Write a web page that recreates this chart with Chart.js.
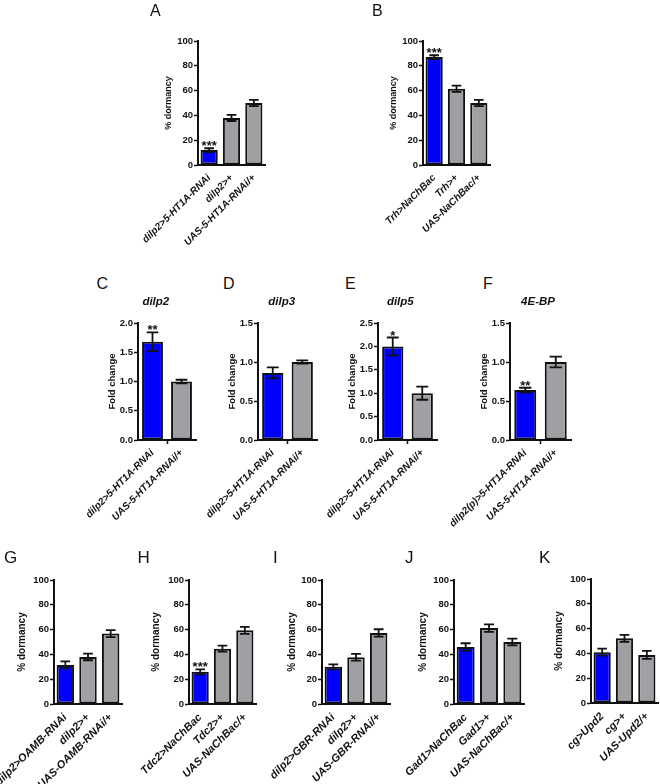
<!DOCTYPE html>
<html lang="en">
<head>
    <meta charset="UTF-8">
    <title>Dormancy panels</title>
    <script src="https://cdn.jsdelivr.net/npm/chart.js"></script>
    <style>
        body { margin: 0; background: #fff; }
        #fig { position: relative; width: 660px; height: 784px; overflow: hidden; }
        #fig canvas { position: absolute; }
        .letter { position: absolute; font: 16px "Liberation Sans", Arial, sans-serif; line-height: 1; color: #111; }
        .gene { position: absolute; font: italic bold 11.5px "Liberation Sans", Arial, sans-serif; line-height: 1; color: #111; transform: translateX(-50%); white-space: nowrap; }
    </style>
</head>
<body>
<div id="fig"></div>
<script>
    // ---- data ----
    const labelsA = ["dilp2>5-HT1A-RNAi", "dilp2>+", "UAS-5-HT1A-RNAi/+"];
    const valuesA = [12, 38, 50];
    const errA = [1.5, 2.5, 2.5];
    const starsA = ["***", "", ""];

    const labelsB = ["Trh>NaChBac", "Trh>+", "UAS-NaChBac/+"];
    const valuesB = [87, 61.5, 50];
    const errB = [1.5, 2.5, 2.5];
    const starsB = ["***", "", ""];

    const labelsCDE = ["dilp2>5-HT1A-RNAi", "UAS-5-HT1A-RNAi/+"];
    const valuesC = [1.68, 1.0];
    const errC = [0.16, 0.03];
    const starsC = ["**", ""];

    const valuesD = [0.86, 1.0];
    const errD = [0.07, 0.02];
    const starsD = ["", ""];

    const valuesE = [2.0, 1.0];
    const errE = [0.19, 0.14];
    const starsE = ["*", ""];

    const labelsF = ["dilp2(p)>5-HT1A-RNAi", "UAS-5-HT1A-RNAi/+"];
    const valuesF = [0.64, 1.0];
    const errF = [0.03, 0.07];
    const starsF = ["**", ""];

    const labelsG = ["dilp2>OAMB-RNAi", "dilp2>+", "UAS-OAMB-RNAi/+"];
    const valuesG = [31.5, 38, 56.8];
    const errG = [2.8, 2.7, 2.8];
    const starsG = ["", "", ""];

    const labelsH = ["Tdc2>NaChBac", "Tdc2>+", "UAS-NaChBac/+"];
    const valuesH = [26, 44.6, 59.4];
    const errH = [2, 2.4, 2.8];
    const starsH = ["***", "", ""];

    const labelsI = ["dilp2>GBR-RNAi", "dilp2>+", "UAS-GBR-RNAi/+"];
    const valuesI = [30, 37.7, 57.3];
    const errI = [2, 2.7, 3];
    const starsI = ["", "", ""];

    const labelsJ = ["Gad1>NaChBac", "Gad1>+", "UAS-NaChBac/+"];
    const valuesJ = [46, 61.2, 50];
    const errJ = [3, 3, 2.8];
    const starsJ = ["", "", ""];

    const labelsK = ["cg>Upd2", "cg>+", "UAS-Upd2/+"];
    const valuesK = [41, 52.2, 38.8];
    const errK = [2.8, 2.8, 3.2];
    const starsK = ["", "", ""];

    const geneTitles = ["dilp2", "dilp3", "dilp5", "4E-BP"];

    // ---- look ----
    const BLUE = "#0000ff";
    const GRAY = "#a0a0a4";
    const INK = "#111";
    const FAMILY = "'Liberation Sans', Arial, sans-serif";

    const fig = document.getElementById("fig");

    // error bars + significance stars, placed with the chart's own y scale
    const errorBars = {
        id: "errorBars",
        afterDatasetsDraw(chart) {
            const ctx = chart.ctx;
            const ds = chart.data.datasets[0];
            const meta = chart.getDatasetMeta(0);
            const y = chart.scales.y;
            ctx.save();
            ctx.strokeStyle = INK;
            ctx.lineWidth = 1.8;
            meta.data.forEach((bar, i) => {
                const v = ds.data[i], e = ds.err[i];
                const hi = y.getPixelForValue(v + e);
                const lo = y.getPixelForValue(v - e);
                const cap = bar.width * 0.28;
                ctx.beginPath();
                ctx.moveTo(bar.x, hi); ctx.lineTo(bar.x, lo);
                ctx.moveTo(bar.x - cap, hi); ctx.lineTo(bar.x + cap, hi);
                ctx.moveTo(bar.x - cap, lo); ctx.lineTo(bar.x + cap, lo);
                ctx.stroke();
                if (ds.stars[i]) {
                    ctx.fillStyle = INK;
                    ctx.font = "bold 13px " + FAMILY;
                    ctx.textAlign = "center";
                    ctx.textBaseline = "alphabetic";
                    ctx.fillText(ds.stars[i], bar.x, hi + 2);
                }
            });
            ctx.restore();
        }
    };

    function makePanel(p) {
        const PADL = 75, PADT = 30, PADR = 6, XH = 100;
        const YW = p.titleOff + 6;
        const plotW = p.right - p.axisX;
        const plotH = p.bottom - p.top;
        const w = Math.round(PADL + YW + plotW + PADR);
        const h = Math.round(PADT + plotH + XH);
        const c = document.createElement("canvas");
        c.width = w; c.height = h;
        c.style.width = w + "px"; c.style.height = h + "px";
        c.style.left = (p.axisX - YW - PADL) + "px";
        c.style.top = (p.top - PADT) + "px";
        fig.appendChild(c);

        const two = p.labels.length === 2;

        new Chart(c, {
            type: "bar",
            data: {
                labels: p.labels,
                datasets: [{
                    data: p.values,
                    err: p.err,
                    stars: p.stars,
                    backgroundColor: p.labels.map((l, i) => i === 0 ? BLUE : GRAY),
                    borderColor: INK,
                    borderWidth: 2,
                    borderSkipped: false,
                    barPercentage: two ? 0.72 : 0.77,
                    categoryPercentage: 1
                }]
            },
            options: {
                responsive: false,
                animation: false,
                layout: { padding: { left: PADL, top: PADT, right: PADR, bottom: 0 } },
                plugins: { legend: { display: false }, tooltip: { enabled: false } },
                scales: {
                    x: {
                        offset: true,
                        border: { display: true, color: INK, width: 2 },
                        grid: {
                            display: true, offset: true, drawOnChartArea: false,
                            drawTicks: true, tickLength: 4, tickWidth: 1.5,
                            tickColor: ctx => (two && ctx.index === 1) ? INK : "rgba(0,0,0,0)"
                        },
                        ticks: {
                            autoSkip: false, minRotation: 45, maxRotation: 45, padding: 3,
                            color: INK, font: { family: FAMILY, size: p.xSize, style: "italic", weight: "bold" }
                        },
                        afterFit: s => { s.height = XH; s.paddingLeft = 0; s.paddingRight = 0; }
                    },
                    y: {
                        min: 0, max: p.max,
                        border: { display: true, color: INK, width: 2 },
                        grid: { drawOnChartArea: false, drawTicks: true, tickLength: 4, tickWidth: 1.5, tickColor: INK },
                        ticks: {
                            stepSize: p.step, padding: 1, color: INK,
                            font: { family: FAMILY, size: 9.5, weight: "bold" },
                            callback: v => v.toFixed(p.dec)
                        },
                        title: {
                            display: true, text: p.yTitle, color: INK, padding: 0,
                            font: { family: FAMILY, size: p.titleSize, weight: "bold" }
                        },
                        afterFit: s => { s.width = YW; s.paddingTop = 0; s.paddingBottom = 0; }
                    }
                }
            },
            plugins: [errorBars]
        });
    }

    const dorm = { max: 100, step: 20, dec: 0, yTitle: "% dormancy" };
    const fold = { max: 1.5, step: 0.5, dec: 1, yTitle: "Fold change" };

    const panels = [
        Object.assign({}, dorm, { labels: labelsA, values: valuesA, err: errA, stars: starsA, axisX: 197.7, right: 265, top: 40.5, bottom: 164, titleOff: 29, titleSize: 9, xSize: 10 }),
        Object.assign({}, dorm, { labels: labelsB, values: valuesB, err: errB, stars: starsB, axisX: 422.7, right: 490, top: 40.5, bottom: 164, titleOff: 29, titleSize: 9, xSize: 10 }),
        Object.assign({}, fold, { labels: labelsCDE, values: valuesC, err: errC, stars: starsC, max: 2.0, axisX: 137.7, right: 196, top: 323.3, bottom: 440.7, titleOff: 25, titleSize: 9.5, xSize: 10 }),
        Object.assign({}, fold, { labels: labelsCDE, values: valuesD, err: errD, stars: starsD, axisX: 258.3, right: 317, top: 323.3, bottom: 440.7, titleOff: 25, titleSize: 9.5, xSize: 10 }),
        Object.assign({}, fold, { labels: labelsCDE, values: valuesE, err: errE, stars: starsE, max: 2.5, axisX: 377.7, right: 437, top: 323.3, bottom: 440.7, titleOff: 25, titleSize: 9.5, xSize: 10 }),
        Object.assign({}, fold, { labels: labelsF, values: valuesF, err: errF, stars: starsF, axisX: 510, right: 571, top: 323.3, bottom: 440.7, titleOff: 25, titleSize: 9.5, xSize: 10 }),
        Object.assign({}, dorm, { labels: labelsG, values: valuesG, err: errG, stars: starsG, axisX: 54.3, right: 122, top: 580, bottom: 704, titleOff: 32, titleSize: 10, xSize: 11 }),
        Object.assign({}, dorm, { labels: labelsH, values: valuesH, err: errH, stars: starsH, axisX: 189.3, right: 256, top: 580, bottom: 704, titleOff: 33, titleSize: 10, xSize: 11 }),
        Object.assign({}, dorm, { labels: labelsI, values: valuesI, err: errI, stars: starsI, axisX: 321.7, right: 390, top: 580, bottom: 704, titleOff: 30, titleSize: 10, xSize: 11 }),
        Object.assign({}, dorm, { labels: labelsJ, values: valuesJ, err: errJ, stars: starsJ, axisX: 454, right: 524, top: 580, bottom: 704, titleOff: 31, titleSize: 10, xSize: 11 }),
        Object.assign({}, dorm, { labels: labelsK, values: valuesK, err: errK, stars: starsK, axisX: 590.7, right: 658, top: 579, bottom: 703.3, titleOff: 32, titleSize: 10, xSize: 11 })
    ];
    panels.forEach(makePanel);

    // panel letters and gene titles
    const letters = [
        ["A", 150, 3, 16], ["B", 372, 3, 16],
        ["C", 96.5, 276, 16], ["D", 223, 276, 16], ["E", 345, 276, 16], ["F", 483, 276, 16],
        ["G", 4, 549, 17], ["H", 137.5, 549, 17], ["I", 273, 549, 17], ["J", 405, 549, 17], ["K", 539, 549, 17]
    ];
    letters.forEach(([t, x, y, s]) => {
        const d = document.createElement("div");
        d.className = "letter";
        d.textContent = t;
        d.style.left = x + "px"; d.style.top = y + "px"; d.style.fontSize = s + "px";
        fig.appendChild(d);
    });
    [155.8, 281.7, 400.3, 538].forEach((x, i) => {
        const d = document.createElement("div");
        d.className = "gene";
        d.textContent = geneTitles[i];
        d.style.left = x + "px"; d.style.top = "296px";
        fig.appendChild(d);
    });
</script>
</body>
</html>
